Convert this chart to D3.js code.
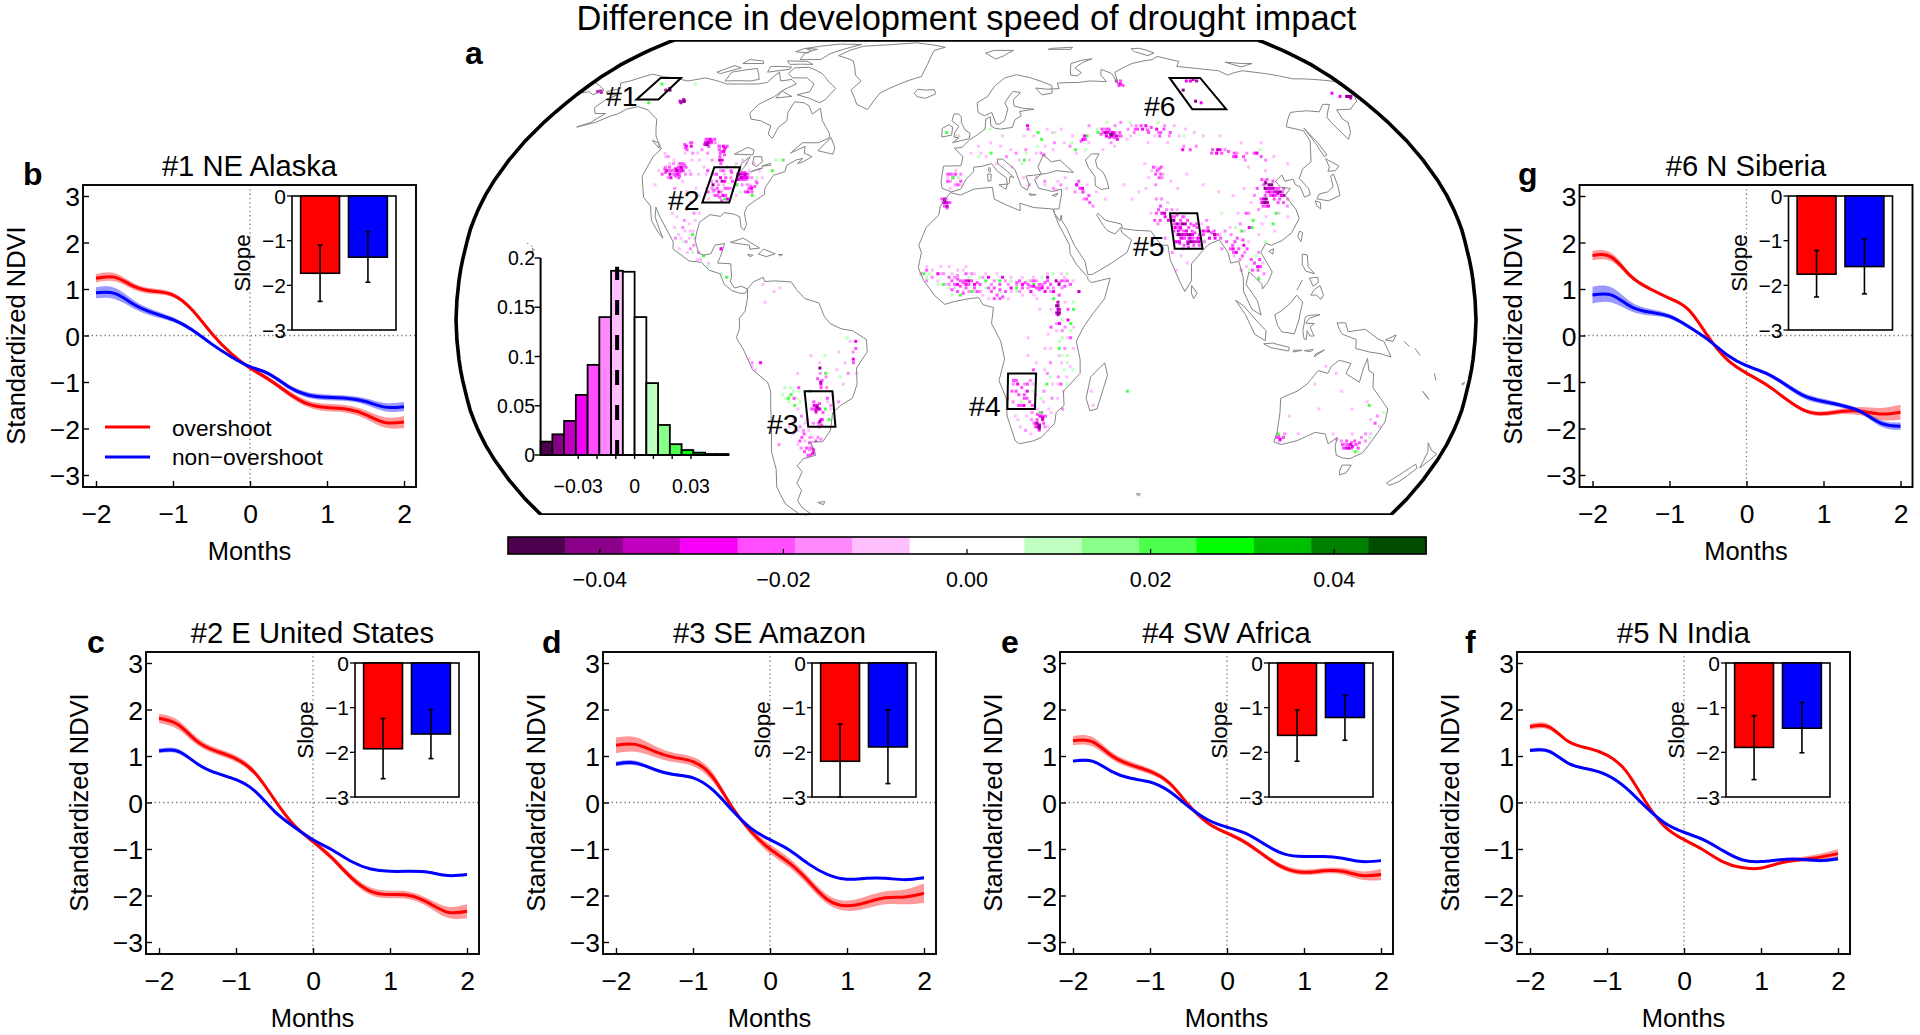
<!DOCTYPE html>
<html><head><meta charset="utf-8">
<script src="https://cdn.jsdelivr.net/npm/d3@7/dist/d3.min.js"></script>
<style>
html,body{margin:0;padding:0;background:#fff}
svg{display:block}
text{font-family:"Liberation Sans",Arial,sans-serif;fill:#000}
</style></head><body>
<svg id="fig" width="1920" height="1035"></svg>
<script>
// ---------- curve data ----------
const months=[-2,-1.75,-1.5,-1.25,-1,-.75,-.5,-.25,0,.25,.5,.75,1,1.25,1.5,1.75,2];
const overB=[1.23,1.25,1.05,.95,.87,.55,.05,-.38,-.7,-.95,-1.24,-1.47,-1.55,-1.58,-1.7,-1.87,-1.86];
const nonB=[.92,.9,.66,.48,.34,.12,-.18,-.45,-.67,-.83,-1.1,-1.28,-1.33,-1.35,-1.42,-1.54,-1.53];
const overBandB=[.09,.09,.07,.06,.05,.04,.03,.03,.04,.05,.06,.07,.08,.08,.09,.11,.13];
const nonBandB=[.12,.12,.09,.07,.05,.04,.03,.03,.03,.04,.05,.06,.06,.06,.07,.09,.1];
const overC=[1.81,1.67,1.31,1.1,.94,.63,.06,-.48,-.84,-1.2,-1.62,-1.91,-1.98,-2,-2.16,-2.36,-2.34];
const nonC=[1.11,1.1,.83,.63,.49,.24,-.19,-.52,-.8,-1.02,-1.27,-1.43,-1.48,-1.48,-1.5,-1.57,-1.55];
const overBandC=[.1,.1,.08,.07,.07,.06,.03,.03,.05,.06,.07,.08,.08,.08,.09,.12,.15];
const nonBandC=[.05,.05,.03,.03,.03,.02,.02,.02,.02,.02,.02,.02,.02,.02,.02,.02,.03];
const overD=[1.23,1.25,1.1,.97,.88,.56,-.08,-.62,-1,-1.3,-1.69,-2.09,-2.22,-2.15,-2.05,-2.03,-1.95];
const nonD=[.83,.85,.71,.6,.53,.28,-.15,-.55,-.8,-1.02,-1.32,-1.55,-1.65,-1.63,-1.63,-1.66,-1.62];
const overBandD=[.17,.16,.12,.1,.1,.1,.05,.07,.1,.1,.1,.1,.11,.13,.14,.16,.21];
const nonBandD=[.05,.05,.03,.03,.03,.02,.02,.02,.02,.02,.02,.02,.02,.02,.02,.02,.03];
const overE=[1.33,1.31,1.01,.81,.67,.42,-.05,-.44,-.66,-.87,-1.16,-1.41,-1.5,-1.47,-1.48,-1.57,-1.55];
const nonE=[.89,.89,.67,.52,.44,.24,-.09,-.37,-.53,-.67,-.91,-1.11,-1.16,-1.16,-1.2,-1.27,-1.25];
const overBandE=[.1,.1,.08,.07,.06,.05,.03,.03,.04,.05,.05,.06,.06,.06,.07,.09,.12];
const nonBandE=[.03,.03,.02,.02,.02,.02,.02,.02,.02,.02,.02,.02,.02,.02,.02,.02,.02];
const overF=[1.63,1.62,1.31,1.17,1.02,.67,.02,-.52,-.8,-1.02,-1.27,-1.4,-1.41,-1.3,-1.23,-1.18,-1.1];
const nonF=[1.12,1.1,.84,.72,.59,.31,-.09,-.44,-.64,-.8,-1.03,-1.23,-1.27,-1.23,-1.22,-1.25,-1.21];
const overBandF=[.06,.06,.03,.03,.03,.02,.02,.02,.02,.02,.02,.02,.03,.03,.05,.07,.1];
const nonBandF=[.04,.04,.03,.02,.02,.02,.02,.02,.02,.02,.02,.02,.02,.02,.02,.03,.04];
const overG=[1.72,1.68,1.27,1,.8,.55,-.02,-.52,-.81,-1.05,-1.35,-1.61,-1.68,-1.63,-1.63,-1.69,-1.65];
const nonG=[.87,.87,.62,.5,.41,.19,-.09,-.42,-.65,-.81,-1.05,-1.3,-1.42,-1.51,-1.65,-1.89,-1.95];
const overBandG=[.1,.09,.05,.04,.04,.03,.02,.02,.03,.03,.03,.04,.05,.06,.09,.13,.16];
const nonBandG=[.18,.16,.1,.07,.05,.04,.03,.03,.03,.04,.05,.06,.06,.05,.05,.07,.08];
// slope insets: bar value, error top, error bottom
const barCats=['overshoot','non\u2212overshoot'];
const slopeB=[[-1.73,-1.1,-2.36],[-1.37,-.8,-1.93]];
const slopeC=[[-1.92,-1.24,-2.59],[-1.59,-1.04,-2.14]];
const slopeD=[[-2.2,-1.37,-3],[-1.88,-1.05,-2.7]];
const slopeE=[[-1.62,-1.05,-2.2],[-1.22,-.72,-1.73]];
const slopeF=[[-1.89,-1.18,-2.61],[-1.46,-.88,-2.01]];
const slopeG=[[-1.75,-1.22,-2.26],[-1.58,-.96,-2.19]];
const yTicks=[-3,-2,-1,0,1,2,3], xTicks=[-2,-1,0,1,2], slopeTicks=[0,-1,-2,-3];
// ---------- histogram / colour bar ----------
const binEdgesStart=-.05, binWidth=.00625;
const histValues=[.0136,.021,.0346,.061,.0915,.14,.187,.186,.14,.073,.0305,.011,.005,.0024,.001,.001];
const binColors=['#4d0050','#8b0089','#bf00bf','#f700f7','#ff4dff','#ff88ff','#ffbfff','#ffffff','#ffffff','#bfffbf','#88ff88','#4dff4d','#00ff00','#00bf00','#008000','#004d00'];
const histYTicks=[0,.05,.1,.15,.2], histXMinor=[-.03,-.02,-.01,0,.01,.02,.03], histXLabels=[-.03,0,.03];
const histMean=-.0093;
const barTicks=[-.04,-.02,0,.02,.04];
// ---------- map: study boxes [lon0,lat0,lon1,lat1] ----------
const regionBoxes=[[-150,63,-140,70],[-98,33,-88,43],[-58,-30,-48,-20],[15,-25,25,-15],[75,20,85,30],[100,60,115,70]];
const regionNames=['#1','#2','#3','#4','#5','#6'];
// ---------- coastlines (lon,lat) ----------
const coastNorthAmerica=[[-164,54.6],[-160,56],[-157.5,58.7],[-162,58.7],[-165,60.5],[-164,63],[-161,64.5],[-166,64.6],[-168,65.6],[-163,66.5],[-166.5,68.3],[-163,69],[-156.5,71.3],[-150,70.5],[-141,69.7],[-135,69],[-128,70],[-124,69.5],[-115,68],[-108,68],[-100,68],[-96,68.5],[-94,72],[-90,69],[-85,69.5],[-81.5,68],[-86,66],[-88,64],[-93,61.5],[-94.5,58.8],[-92.5,57],[-88,56.5],[-82.5,55],[-82,52.5],[-79.5,51.3],[-79,54.5],[-76.7,56.5],[-78,59],[-77.5,62.3],[-73,62],[-70,61],[-67,58.5],[-64.5,60.3],[-61.5,56.5],[-57,53],[-56,51.5],[-60,50],[-66.5,50],[-70,47],[-65,49],[-64.5,47],[-61,46],[-64,44.5],[-66,44],[-64.5,45.5],[-67,45],[-70,43.5],[-70,41.7],[-74,40.7],[-75.5,38],[-76,36.9],[-75.5,35.3],[-78,33.9],[-81,32],[-81.5,30],[-80,26.8],[-80.5,25.2],[-81.8,26],[-83,29],[-85,29.7],[-89,30.2],[-90,29.1],[-94,29.6],[-97.3,27.5],[-97.8,22.5],[-95.9,18.8],[-94,18.2],[-91.5,18.6],[-90.4,21],[-87,21.5],[-87.8,18.3],[-88.7,16],[-84,15.8],[-83.3,12],[-83.7,10.8],[-82,9],[-79.7,9.5],[-77.4,8.7],[-78.2,7.5],[-80,7.5],[-83,8.3],[-85.7,10],[-87.5,13],[-91.5,14],[-94.5,16.2],[-99,16.6],[-105.3,20],[-105.6,22],[-109,25.7],[-112.7,29.5],[-114.7,31.7],[-114,29],[-111,25],[-109.5,23],[-112,25],[-115,28],[-116.8,32],[-120.5,34.5],[-122.5,37.7],[-124.3,40.4],[-124,46],[-122.5,48.2],[-125,50],[-128,52],[-130.5,54.5],[-133,57],[-136.5,58.3],[-140,59.7],[-146,60.8],[-150,60],[-152,58.5],[-154,58],[-158,56],[-164,54.6]];
const coastSouthAmerica=[[-77.4,8.7],[-75.5,10.7],[-72,12],[-71.5,10.8],[-68,11],[-62,10.7],[-60,8.5],[-57,6],[-52,4.8],[-50,1],[-48,-1],[-44,-2.5],[-40,-3],[-35.2,-5.5],[-35,-9],[-39,-13.5],[-39,-18],[-41,-22],[-45,-23.8],[-48.5,-26],[-50,-31],[-53.5,-34.2],[-58,-34.3],[-57,-38],[-62,-39],[-65,-41],[-63.7,-42.7],[-67,-46],[-66,-48],[-69,-51],[-68.3,-53],[-65.3,-55],[-70,-55.3],[-74.5,-52],[-75.5,-47],[-73.5,-42],[-73.5,-37],[-71.5,-30],[-70.2,-20],[-71,-17.5],[-76,-14],[-79,-8],[-81.2,-5],[-80,-2.5],[-80,.5],[-78,2.5],[-77.3,6],[-77.4,8.7]];
const coastAfrica=[[-5.9,35.8],[-2,35.1],[3,36.8],[10,37.3],[10.5,34],[15,32.3],[20,30.7],[20,32.8],[25,31.6],[32,31.2],[32.5,30],[33.7,27],[35.5,24],[37.3,21],[37.3,18.7],[39.5,15.5],[43.3,12],[43.2,11.5],[44.5,10.5],[51.2,11.8],[49,6],[45,2],[41.5,-2],[39,-6],[40.5,-11],[40.7,-15],[35,-20],[35.5,-24],[32.8,-26],[32.5,-29],[28,-33],[25,-34],[20,-34.8],[18.4,-34],[15,-27],[14.5,-22],[11.8,-17],[13.7,-11],[12.3,-6],[9,-1],[9.7,3.5],[6,4.3],[4.5,6.3],[1,6],[-4,5.2],[-7.5,4.4],[-11,6.8],[-13.5,9.5],[-15,11],[-17,14.7],[-16,19],[-17,21],[-14.5,26],[-10,29.5],[-9.5,32],[-5.9,35.8]];
const coastEurasia=[[-5.5,36],[-9,37],[-9.5,38.8],[-8.8,43.3],[-2,43.4],[-1.2,46],[-4.7,48.4],[-1.5,48.7],[1.5,50.9],[4,52],[8,54],[8.5,57],[10.5,57.7],[10.5,55],[12,54.3],[14.5,54],[19.5,54.5],[21,56.8],[24,58],[23.5,59.3],[30,60],[25,60.3],[21.5,61],[21.5,63],[25.4,65.2],[22,65.6],[17.5,62],[18.5,60],[16.5,56.5],[14.3,55.5],[12.8,55.5],[11.3,59],[8,58],[5.3,59],[5,62],[10,64],[14,67.5],[19,70],[25,71.1],[31,70.2],[41,67.5],[40,65],[35,64.5],[33,66.7],[38,66.3],[44,66.5],[44,68.3],[54,68.5],[60,69],[68,68.8],[67,71],[69,73],[73,71.5],[73,68],[75,72],[80.5,73.5],[87,75],[100,76.5],[104.5,77.7],[113,75.8],[109,74],[118,73.3],[128,72.5],[130,71],[140,72.5],[150,71.5],[160,69.7],[170,69.5],[179.9,68.7],[179.9,65],[177,62.5],[170,60],[163.5,59.8],[162,57],[163,56],[160,53],[156.7,51],[155.7,56],[156,57.5],[163,61.5],[160,61.5],[155,59.2],[150,59.5],[142,59],[135,54.7],[141,53.5],[140.5,50.5],[135.5,44.5],[130.7,42.5],[127.5,39.8],[129.4,37],[129,35.2],[126.5,34.5],[126.5,37.5],[125,38],[125,39.6],[121.5,39],[121.5,40.8],[118,39],[119,37.3],[122.5,37],[119.5,35],[121.8,31],[122,28.5],[118,24.5],[114,22.3],[110,21],[108,21.5],[105.8,19],[109,13.5],[107,10.5],[105,8.7],[105,10],[102.5,12.2],[100.7,13.5],[99.3,10],[103,5.5],[104.2,1.4],[101,3],[98.3,8],[98.5,12],[97.5,16.5],[94.5,16],[94,19],[91.5,22.5],[89,21.8],[87,21],[85,19.5],[80.5,15.8],[80,11],[77.5,8],[76,10.5],[73,17],[72.7,21],[70.5,21],[69,22.5],[67,25],[61.5,25.2],[57,25.7],[56.5,27],[51,28],[48.5,30],[48,29.5],[50,26.5],[51.5,25],[54,24.2],[56.3,26],[56.5,24.5],[59.8,22.5],[57.8,19],[52,16],[45,12.8],[43.3,12.8],[42.5,16.5],[39,21],[36.5,26],[35,28],[35,29.5],[34.3,27.8],[32.6,29.9],[32.3,31.2],[34.3,31.2],[35.9,35.5],[36,36.8],[32.5,36.1],[30.5,36.5],[27.5,37],[26.2,39.5],[29,41],[31,41.2],[35,42],[41.5,41.5],[37,45],[33.5,44.5],[30.7,46.5],[28,43],[29,41],[26,40.7],[23,40.5],[24,38],[23,36.5],[21,37.5],[19.5,41],[19,42.3],[14.5,45.3],[12.3,45.3],[12.5,44],[16,41.8],[18.4,40],[16.9,40.4],[16.5,38.5],[15.7,38],[15.5,40],[12.3,41.7],[10,44],[6,43.2],[3,43],[3,41.8],[0,39.5],[-2,36.8],[-5.5,36]];
const coastIslands=[
[[-179.9,68.7],[-175,67.5],[-170,66],[-172.5,64.5],[-176,65.5],[-179.9,65]],
[[49.3,-12],[50.5,-15.5],[47.5,-25],[45,-25.5],[43.3,-22],[44.5,-16],[49.3,-12]],
[[47,45],[50,46.8],[53,46.8],[51,45],[51,43],[53,41.5],[53.8,39],[54,37],[51,36.7],[49,37.8],[49.5,40.3],[47.7,42.8],[47,45]],
[[-5.5,50],[1.3,51.2],[1.7,52.8],[-.3,53.7],[-2,56],[-2,57.6],[-3.2,58.6],[-5.2,58.5],[-6,56.5],[-3,54.8],[-4.5,53.3],[-5,51.7],[-3,51.4],[-5.5,50]],
[[-6,52.2],[-10,51.7],[-10,54.2],[-7.3,55.3],[-5.6,54.6],[-6,52.2]],
[[-22.5,63.9],[-18.5,63.4],[-14,64.8],[-15,66.2],[-19,66],[-22.8,66.3],[-24,65],[-22.5,63.9]],
[[11,79],[16,76.7],[21,78],[27,80],[16,80],[11,79]],
[[52,71],[55,70.7],[58,71.8],[56,73.5],[62,75.5],[68,76.8],[62,76.3],[55,75],[52,71]],
[[95,79.5],[100,78],[105,79],[100,81],[95,80.8],[95,79.5]],
[[137,75.5],[145,75],[150,75],[142,73.8],[137,75.5]],
[[47,80.5],[60,80.5],[62,81.5],[50,81],[47,80.5]],
[[142,54.3],[143,50],[143.5,46.5],[142,46],[142,50],[142,54.3]],
[[130.9,34],[135,33.5],[140,35],[141,38],[141.5,41],[140,40.5],[139,37.5],[136,36],[132.5,35.4],[130.9,34]],
[[140,41.8],[143,42],[145.5,43.3],[142,45.4],[141.5,43],[140,41.8]],
[[130,33.5],[131.7,33],[131,31.2],[130,32],[130,33.5]],
[[121,25],[122,24.5],[120.8,22],[120,23.5],[121,25]],
[[108.7,19.3],[110.5,20],[110,18.5],[108.7,19.3]],
[[120.5,18.5],[122.3,18.3],[122,15],[124,13],[121,13.7],[120,15.5],[120.5,18.5]],
[[122,7],[123.5,8.6],[125.5,9.7],[126.5,7],[125.5,5.8],[124,7],[122,7]],
[[117.2,8.4],[119.5,11.3]],
[[122,11.8],[125,12],[125,10.5],[123,9.5],[122,11.8]],
[[109,1.5],[111.3,2.5],[115,5],[117,7],[119,5],[118,2],[117.5,0],[116,-3.9],[111.5,-3.3],[110,-1.5],[109,1.5]],
[[95.3,5.6],[98,4],[103.5,-1],[106,-3],[105.8,-5.8],[102,-4],[98.7,1.5],[95.3,5.6]],
[[105.3,-6.7],[108.5,-6.5],[114.5,-7.7],[114.3,-8.7],[108,-7.8],[105.3,-6.7]],
[[116,-8.5],[119,-8.5],[116,-9],[116,-8.5]],
[[123.5,-10.3],[127,-8.4],[124,-9.5],[123.5,-10.3]],
[[119.8,-8.6],[123,-8.3],[122,-8.9],[119.8,-8.6]],
[[119.8,.8],[121,1.3],[125,1.5],[121,.4],[120,-.9],[123,-1],[121.5,-2],[123,-4.5],[121.5,-4.5],[120.5,-3],[120.3,-5.5],[119.5,-5.3],[119,-3],[119.8,.8]],
[[131,-.8],[134,-.8],[135,-3.3],[141,-2.6],[146,-5.5],[147.8,-6],[150.8,-10.4],[147,-9.5],[143,-9],[138,-8],[138,-5.5],[133,-4],[132,-2.8],[131,-.8]],
[[148.3,-5.6],[152,-4.2],[151,-6],[148.3,-5.6]],
[[155,-6],[157,-7.5]],[[159,-8],[161,-10]],[[167,-15],[168,-17]],[[164,-20],[167,-22.3],[165.5,-21],[164,-20]],[[177.5,-18],[178.5,-17.5],[178,-18.3],[177.5,-18]],
[[113.5,-22],[114.2,-26],[115,-31.5],[115,-34.3],[118,-35],[123.5,-33.9],[129,-31.6],[133,-32],[135.5,-34.8],[138,-33],[138.5,-35.5],[140.5,-38],[143.5,-38.8],[146.3,-39],[150,-37.3],[151.5,-33.5],[153.5,-28.5],[153,-25],[149.5,-22],[146,-19],[145.3,-15],[143.5,-14.2],[142.5,-10.8],[141.5,-13.5],[140.8,-17.5],[137.5,-16],[135.5,-15],[136.8,-12.2],[132.5,-11.3],[130,-13],[129,-15],[125.5,-14.2],[122.2,-18],[119,-20],[114,-21.8],[113.5,-22]],
[[144.7,-40.8],[148.2,-40.8],[148,-43],[146,-43.6],[145,-42.5],[144.7,-40.8]],
[[166.5,-45.9],[168.3,-46.6],[171,-45.5],[172.7,-43.7],[174.3,-41.7],[172.7,-40.5],[170,-43],[166.5,-45.9]],
[[172.7,-34.5],[175.5,-36.6],[178.4,-37.7],[177,-39.5],[175.3,-41.6],[174.8,-39.5],[174.5,-37],[172.7,-34.5]],
[[80,9.7],[81.8,7.5],[80.5,6],[79.8,7.5],[80,9.7]],
[[12.5,38],[15.6,38.2],[15.1,36.7],[12.5,38]],[[8.3,41],[9.7,41],[9.5,39.2],[8.4,39],[8.3,41]],[[9,43],[9.5,42.5],[9.3,41.5],[8.6,42],[9,43]],[[23.6,35.5],[26.3,35.2],[24,35],[23.6,35.5]],[[32.3,35],[34.5,35.6],[33.5,34.7],[32.3,35]],
[[-61.5,66.5],[-64,63],[-66,62],[-72,63.5],[-78,64.5],[-73,65.5],[-73,68],[-78,70],[-85,70],[-89,71.5],[-88,73.5],[-81,73.7],[-72,71.5],[-67,69],[-61.5,66.5]],
[[-78,76.5],[-89,76.5],[-90,79],[-85,80.5],[-92,81],[-75,83],[-62,82.8],[-70,80.5],[-76,78.5],[-78,76.5]],
[[-80,74.7],[-92,74.7],[-95,76],[-84,75.8],[-80,74.7]],
[[-105,69],[-117,69],[-118,72],[-107,73.3],[-101,69.5],[-105,69]],
[[-123,71.5],[-125.5,72],[-120,74.3],[-115.5,73.5],[-123,71.5]],
[[-106,75],[-117,75],[-116,76.5],[-108,76],[-106,75]],
[[-90,73],[-100,72],[-101,74],[-90,73.8],[-90,73]],
[[-88,79],[-96,79.5],[-93,81],[-88,80],[-88,79]],
[[-80,64],[-87,63.5],[-86,65.7],[-82,64.5],[-80,64]],
[[-59.3,47.7],[-53,46.7],[-52.8,48.5],[-55.5,51.5],[-59.3,47.7]],
[[-123.5,48.4],[-128.3,50.7],[-125,50],[-123.5,48.4]],
[[-43.5,59.9],[-40,65],[-32,68],[-22,70.5],[-20,75],[-18,80],[-12,81.5],[-30,83.6],[-45,82.7],[-60,82],[-70,78],[-60,76],[-55,71],[-51,69],[-54,66],[-49,61.5],[-43.5,59.9]],
[[-85,21.8],[-80.5,23],[-74.2,20.2],[-77.7,19.9],[-78,21],[-85,21.8]],
[[-74.4,18.5],[-72.8,19.9],[-68.4,18.6],[-71.5,17.8],[-74.4,18.5]],
[[-78.3,18.4],[-76.3,18.2],[-77.3,17.8],[-78.3,18.4]],
[[-67.2,18.4],[-65.7,18.4],[-66.5,18],[-67.2,18.4]],
[[-155.8,20.2],[-155,19.7],[-155.8,19],[-155.8,20.2]],[[-158.2,21.5],[-157.7,21.5]],[[-156.6,20.9],[-156,20.7]],
[[-61,-51.5],[-58,-51.3],[-59,-52.2],[-61,-51.5]],
[[68.8,-49],[70.5,-49],[70,-49.7],[68.8,-49]],
[[-92.2,46.7],[-88,48.7],[-85,47.9],[-84.7,46.5],[-87.5,46.6],[-92.2,46.7]],
[[-87.5,41.7],[-88,44],[-85.5,46],[-86.3,43],[-87.5,41.7]],
[[-84,46],[-81,46],[-80,44.5],[-81.7,43.2],[-83.5,43.8],[-84,46]],
[[-83.3,41.6],[-79,42.8],[-81.5,42.3],[-83.3,41.6]],
[[-79.7,43.3],[-76.3,43.5],[-76.5,44.1],[-79.7,43.3]]
];
// ---------- map pixels: difference values grouped by class (lon,lat) ----------
const spotValues={pale:-.012,light:-.017,pink:-.023,magenta:-.028,deep:-.035,dark:-.04,mint:.01,lime:.023};
const spotsPale=[[-120,47],[-115,45],[-110,44],[-112,47],[-105,45],[-102,43],[-100,41],[-108,39],[-118,38],[-105,36],[-102,37],[-100,35],[-95,36],[-92,38],[-93,41],[-90,44],[-84,42],[-82,38],[-86,35],[-98,30],[-101,27],[-104,24],[-103,20],[-98,23],[-106,26],[-100,19],[-96,17],[-92,16],[-100,25],[-108,30],[-77,-11],[-76,-13],[-75,-14],[-72,10],[-68,8],[-66,9],[-71,5],[-65,-30],[-62,-31],[-60,-34],[-63,-35],[-58,-35.5],[-58,-31],[-41,-6],[-43,-12],[-45,-9],[-39,-15],[-44,-18],[-60,-15],[-55,-10],[-14,15],[-12,14],[-9,15],[-6,15],[-3,14],[0,15],[-10,11],[-7,10],[-4,9],[-1,8],[3,8],[8,6],[15,6],[20,7],[25,6],[30,10],[35,12],[38,11],[40,8],[32,-3],[36,-5],[38,-8],[30,-8],[34,-12],[28,-14],[31,-18],[36,-16],[33,-22],[25,-12],[22,-10],[38,-2],[29,-4],[30,-30],[24,-32],[20,-30],[18,-27],[26,-25],[31,-26],[-7,40],[-4,42],[-2,38],[-6,37],[-3,40],[2,47],[5,49],[10,50],[14,49],[18,48],[21,45],[25,45],[28,47],[32,49],[35,48],[40,50],[22,40],[27,40],[30,38],[35,39],[38,37],[-3,52],[12,44],[15,52],[24,52],[28,52],[44,52],[40,54],[70,44],[72,42],[74,43],[76,41],[70,40],[68,37],[65,36],[60,38],[62,34],[78,39],[80,37],[85,41],[90,38],[95,36],[100,35],[105,37],[110,43],[116,42],[122,46],[126,44],[120,50],[112,50],[105,52],[95,53],[88,52],[82,50],[60,49],[55,48],[50,50],[66,51],[74,50],[96,26],[102,22],[106,24],[108,27],[112,25],[115,30],[118,29],[100,15],[104,12],[106,16],[92,24],[75,14],[77,18],[79,16],[125,-18],[118,-27],[128,-25],[135,-20],[140,-25],[148,-28],[145,-23],[132,-15],[150,-32],[136,-32],[143,-32],[152,-30],[123,-32],[128,-13],[45,-20],[46,-24],
[-112.5,44],[-107,42],[-116,44],[-119,42],[-119,46],[-108,45],[-107,47],[-103,41],[-98,37],[-96,34],[-88,45],[-86,44],[-83,44],[-80,42],[-78,40],[-103,31],[-106,29],[-99,28],[-99,25],[-102,25],[-103,23],[-100,23],[-95,17],[-61,-25],[-63,-28],[-64,-32],[-59,-29],[-57,-33],[-60,-38.5],[-49,-25],[-50,-23],[-48,-21],[-52,-12],[-46,-14],[-9,13],[-5,13],[-1,14],[3,13],[7,13],[11,13],[16,12],[20,12],[24,12],[29,13],[34,13],[6,7],[16,8],[24,7],[26,3],[30,3],[35,5],[22,-5],[28,-8],[33,-10],[37,-13],[35,-20],[33,-18],[24,-18],[28,-23],[30,-25],[19,-28],[22,-27],[68,52],[70,55],[78,52],[88,55],[92,54],[98,52],[46,38],[49,36],[52,34],[38,40],[34,36.5],[18,43],[6,47],[8,46],[44,47],[36,53],[34,54],[86,27],[96,18],[101,25],[110,29],[106,33],[100,30],[75,33],[68,30],[78,31]];
const spotsLight=[[-118,46],[-113,42],[-109,47],[-103,47],[-106,41],[-110,37],[-114,40],[-117,43],[-100,45],[-97,39],[-92,36],[-90,40],[-94,38],[-85,38],[-82,40],[-103,28],[-101,22],[-99,20],[-105,23],[-96,19],[-70,-35],[-60,-27],[-58,-28],[-61,-30],[-55,-33],[-56,-29],[-59,-36],[-62,-36],[-40,-9],[-42,-15],[-76,-12],[-52,-15],[-50,-19],[-46,-23],[-12,12],[-8,13],[-4,12],[-1,11],[2,13],[6,12],[10,11],[14,11],[18,10],[22,9],[27,10],[31,9],[34,9],[37,10],[-16,13],[-14,11],[33,2],[35,-2],[30,-12],[33,-16],[35,-25],[28,-20],[24,-28],[22,-31],[15,-22],[21,-18],[23,-17],[17,-23],[-6,39],[-4,38],[-2,41],[-5,41],[16,46],[20,47],[24,48],[30,47],[36,50],[42,49],[30,39],[33,37],[36,38],[41,36],[44,34],[47,32],[24,38],[52,55],[58,54],[66,56],[72,55],[76,54],[84,55],[88,49],[100,47],[104,48],[108,47],[116,47],[118,45],[75,40],[72,38],[74,31],[70,27],[72,23],[74,19],[78,20],[88,28],[92,20],[98,17],[100,19],[103,16],[106,13],[100,27],[104,30],[108,35],[112,33],[119,32],[142,-35],[146,-35],[148,-32],[118,-32],[150,-27],[117,-34],
[-110,43],[-114.5,44],[-108,41],[-106,48],[-102,50],[-100,49],[-95,42],[-97,41],[-93,43],[-96,37],[-89,37],[-87,38],[-83,38],[-80,39],[-100,30],[-103,26],[-98,21],[-58,-33],[-60,-31],[-59,-36.5],[-54,-33.5],[-50,-16],[-49,-24],[-6,10],[-3,12.5],[1,8],[5,8],[9,10],[15,10],[19,8],[23,11],[25,11],[30,8],[35,11],[32,-1],[34,-3],[35,-8],[29,-15],[31,-22],[25,-21],[17,-18],[24,-26],[29,-30],[59,50],[63,55],[68,54],[70,53],[80,53],[84,52],[93,49],[110,45],[112,47],[71,34],[73,34],[76,31],[80,29],[86,22],[94,25],[96,24],[98,14],[105,19],[108,31],[120,34],[138,-33.5],[140,-34],[147,-33],[149,-34]];
const spotsPink=[[-112,50],[-106,51],[-104,49],[-98,47],[-115,42],[-109,43],[-112,41],[-117,41],[-110,40],[-100,42],[-96,44],[-94,35],[-91,42],[-90,37],[-84,41],[-83,36],[-102,33],[-88,20],[-55,-25],[-52,-26],[-50,-22],[-56,-34],[-58,-36],[-54,-30],[-60,-36],[-39,-8],[-40,-12],[-60,-19],[-62,-22],[18,-17],[21,-21],[19,-24],[23,-23],[28,-27],[26,-30],[-8,32],[-6,12],[0,13],[5,10],[8,9],[12,10],[20,10],[26,9],[29,11],[33,7],[36,3],[37,-5],[30,-2],[-2,11],[-14,14],[24,-14],[34,-18],[-7,41],[26,54],[31,46.5],[43,39],[44,36],[46,35],[57,53],[60,54],[64,52],[71,54],[76,53],[80,52],[90,48],[98,47],[106,46],[117,46],[73,41],[75,29],[78,27],[84,27],[90,24],[96,21],[98,20],[102,17],[105,17],[103,30],[110,37],[114,39],[120,37],[142,-34],[145,-36],[150,-29],[116,-33],[118,-33],
[-112,43],[-111,42.5],[-110.5,41.5],[-112.5,41],[-113,42.5],[-111.5,40.5],[-110,43.5],[-114,42],[-109.5,42],[-111,44],[-116,41.5],[-117,42.5],[-115.5,43],[-112,44],[-110,40.5],[-106,49.5],[-104.5,51],[-103.5,50],[-105.5,50.8],[-106.5,51],[-104,49],[-103,51],[-113,48.5],[-112,48],[-111.5,50],[-114,49.5],[-99,48],[-97,48],[-98,47.5],[-96.5,49],[-99.5,49],[-97.5,46],[-96,46.5],[-87,40],[-86,39.5],[-85,39.5],[-84.5,41],[-85.5,41.5],[-87.5,40.5],[-86.5,41.5],[-84,39.5],[-88,41],[-83.5,40],[-81.5,37.5],[-80.5,36],[-82,37],[-80,37.5],[-79.5,38.5],[-95,36.5],[-93,35],[-94,37],[-92,40],[-91,37],[-90,35],[-96,41],[-89,39],[-92,34.5],[-94,42],[-90.5,41.5],[-95,39],[-97,36],[-91,33.5],[-5,11],[-4,10],[-3,11.5],[-2,9.5],[-1,10.5],[0,9],[1,10],[2,11],[3,9],[4,10.5],[-5,8.5],[-3,8],[-1,7.5],[4,8],[9,8],[10,9],[11,7],[12,8.5],[13,6.5],[14,8],[10,6],[12,6],[18,10.5],[19,11],[20,9],[21,10.5],[22,10],[23,9.5],[24,11],[25,9],[26,10],[27,9.5],[28,10.5],[29,9],[30,10],[26,8.5],[33,10.5],[34,11],[35,9.5],[36,11],[37,10],[75.5,29],[76.5,29],[77.5,29.5],[78.5,28],[79.5,29],[81,28],[82,27],[83,26.5],[84,26],[76,27],[77,26],[78,25.5],[79,25],[81,26],[82,25],[83,24.5],[84.5,24],[75.5,25],[76.5,24],[77.5,23],[79,23],[80.5,23],[82,23],[83.5,23],[75.5,22],[77,21.5],[78.5,21],[80,20.5],[82,21],[84,21],[71,31],[72,32],[70,30],[69,28],[71,28],[86,24],[87,25],[88,26],[89,24.5],[90,25],[91,24],[92,23],[94,22],[95,20],[96,19],[97,22],[98,23],[100,22.5],[101,20],[99,18],[102,14],[104,14],[103,16],[105,15],[113,38],[114,37],[115,36],[116,35],[117,37],[118,37],[114,35],[115,34],[116,33],[117,34],[118,33],[113,36],[112,35],[119,36],[117,39],[115,39.5],[113,39.5],[110,34],[111,32],[110,32],[42,38],[43,37],[44,36],[45,34],[46,33],[56,52.5],[57,54],[58,52],[59,51.5],[60,53.5],[61,51.5],[62,53],[63,52],[64,53],[59,54],[48,51],[49,51],[47,50.5],[72,54],[74,55],[76,53.5],[78,54.5],[81,53],[83,54],[85,53],[99,48],[102,47],[105,47.5],[107,47],[110,46],[115,47],[26,-28],[27,-31],[25,-29],[25.5,-30],[28.5,-29],[29,-27],[27.5,-26],[26,-26.5],[17,-17],[18,-20],[19,-21],[20,-19],[21,-22],[22,-22],[20,-24],[22,-18],[24,-24],[16.5,-20],[-55,-23],[-53,-23.5],[-54.5,-26],[-56,-25],[-52,-19],[-51.5,-17],[-53,-16.5],[-53,-29.5],[-54,-29],[-52.5,-28],[-57.5,-37],[-59,-38],[-60,-38],[-61,-37],[-58.5,-34.5],[-60,-32],[-61,-33],[-62,-34],[141,-35],[142,-36],[143,-35],[144,-34.5],[145,-34],[146,-35],[147,-34.5],[147.5,-36],[115.5,-33],[116,-32.5],[-8.5,33],[-7.5,34],[-9,34],[-7,31.5],[-6,33],[-6,41],[-5,40],[-4,41],[-3,38],[-2,39],[-7,39],[74,68],[75,69],[73,67.5],[75,67.5],[74,42],[75,42.5],[73,43],[76,43],[75,41],[74,40]];
const spotsMagenta=[[-113,49],[-111,49],[-105,50],[-104,50.5],[-106,50],[-97,48.5],[-98,49],[-96,45],[-116,42],[-112,42],[-111,41],[-110,42],[-113,40],[-85,40.5],[-86,41],[-84,40],[-81,37],[-82,36],[-88,20],[-94,40],[-92,39],[-93,36],[-91,35],[-89,34],[-54,-24],[-53,-25],[-55,-24],[-52,-18],[-53,-28],[-58,-37.5],[-57.5,-36.5],[-40,-11],[-39,-6],[-73,-12],[18.5,-18],[22,-20],[21,-24],[26,-29],[27,-27],[28,-28],[-8,33],[-7,33],[-8,34],[-3,10],[0,10],[3,10],[8,12],[13,12],[16,9],[23,8],[28,8],[31,8],[33,3],[32,2],[36,0],[33,-1],[-10,13],[26,55],[42,38],[44,37],[48,51],[49,52],[58,52],[59,53],[60,52],[61,53],[62,51],[74,54],[76,55],[80,54],[87,48],[100,47],[102,48],[107,46],[116,47],[72,30],[73,29],[74,28],[76,26],[78,26],[80,25],[82,24],[84,23],[76,22],[78,23],[80,22],[83,22],[86,25],[88,23],[90,23],[96,20],[97,19],[100,21],[104,15],[114,37],[116,36],[118,35],[110,33],[112,32],[103,26],[106,62],[143,-36],[144,-35],[145,-35.5],[117,-33.5],[170,65],[172,64],[74,68],[73,69],[107,69],[109,69],
[-111.5,42],[-112.5,42.5],[-110.5,42.5],[-104.5,50],[-105.5,49.5],[-105,51],[-97,47.5],[-86,40],[-85,40],[-87,39.5],[0,11],[20,10],[24,9.5],[27,9],[77,25],[79,24],[81,23],[77,22],[115,35],[117,35.5],[114,36]];
const spotsDeep=[[-172,65.5],[-171,65.7],[-170,65.3],[-129.5,62.5],[-128.5,63],[-127.5,62.5],[-128.5,62],[-141,66],[-140,66.5],[-105,50],[-97,45],[-112,42],[-111,43],[-114,41],[-86,40],[-87,41],[-85,41],[-93,39],[-54,-24.5],[-53.5,-25],[-54.5,-25.5],[-52,-17.5],[-53.5,-28.5],[27,-29.5],[26.5,-30],[27,-30.5],[26,-29],[28,-27.5],[-8,33],[-7,32],[32.5,5],[32,4],[32.5,3],[33,2],[32.5,1.5],[29,12],[32,11],[33,10],[60,52],[61,52.5],[58,53],[62,52],[73,30],[75,28],[77,27],[80,27],[80,24],[78,24],[82,22],[84,22],[80,21.5],[90,24],[88,25],[115,37],[116,37],[117,36],[119,35],[111,34],[112,33],[175,64],[177,64],[176,63.5],[111,69.5],[112,69],[144,-36],[40,8],[1,11],[101,48]];
const spotsDark=[[-139,66],[-128,62.5],[-105,49.5],[-96,38],[-54,-24.5],[-8,33.5],[32.5,4],[32.5,2],[115,38],[114,38.5],[116,38],[113,37],[118,36],[111,33],[112,34],[76,28],[79,27],[81,24],[77,24],[81,22],[175.5,64],[176.5,64],[27,-30],[60,52.5],[104,62.5],[102,66],[-52,-13.5]];
const spotsMint=[[-130,68],[-150,64],[-75,45],[-80,40],[-85,36],[-90,43],[-102,22],[-98,19],[-92,15],[-87,13],[-63,-21],[-62,-20],[-64,-23],[-60,-20],[-65,-19],[-42,-5],[-45,-16],[-50,-10],[-14,12],[-10,10],[-6,9],[-3,8],[2,11],[7,9],[12,8],[18,8],[22,11],[27,12],[33,10],[38,5],[-13,13],[33,-6],[36,-10],[35,-14],[30,-16],[38,-14],[24,-20],[20,-23],[27,-22],[34,0],[10,54],[24,47],[29,49],[37,53],[43,50],[48,48],[55,54],[60,56],[70,56],[82,56],[90,52],[118,48],[-4,52],[-3,40],[5,46],[22,44],[94,30],[104,26],[108,22],[104,18],[101,14],[98,26],[150,-33],[148,-37],[152,-26],
[-63,-19],[-61,-22],[-65,-22],[-66,-21],[-60,-23],[-5,7],[1,12],[5,12],[16,11],[31,13],[36,13],[34,-10],[37,-3],[36,-12],[34,-5],[36,-18]];
const spotsLime=[[-146,68],[-143,62],[-72,45],[-75,42],[-87,38],[-90,34],[-80,35],[-99,24],[-94,18],[-85,12],[-63,-21],[-64,-22],[-62,-24],[-56,-20],[-50,-15],[-51,-25],[-50,-28],[-15,13],[-8,10],[-2,7],[2,8],[7,11],[12,11],[18,9],[24,10],[31,6],[37,-1],[38,3],[33,-8],[29,-18],[27,-26],[-8,53],[31,51],[30,53],[50,52],[55,53],[44,48],[112,27],[114,30],[104,26],[105,28],[100,25],[104,11.5],[147,-37],[146,-24],[115.5,-32],[10,47],[-5,40],[23,45],[58,-20]];
// ---------- drawing ----------
const svg=d3.select('#fig');
const BLACK='#000';
const binColorScale=d3.scaleThreshold().domain(d3.range(1,16).map(i=>binEdgesStart+i*binWidth)).range(binColors);
const PLEN=[1,.9986,.9954,.99,.9822,.973,.96,.9427,.9216,.8962,.8679,.835,.7986,.7597,.7186,.6732,.6213,.5722,.5322];
const PDFE=[0,.062,.124,.186,.248,.31,.372,.434,.4958,.5571,.6176,.6769,.7346,.7903,.8435,.8936,.9394,.9761,1];
function robinsonStretched(lam,phi){
  const d=Math.abs(phi)*180/Math.PI, i=Math.min(Math.floor(d/5),17), t=d/5-i;
  const w=PLEN[i]+(PLEN[i+1]-PLEN[i])*t, h=PDFE[i]+(PDFE[i+1]-PDFE[i])*t;
  return [lam/Math.PI*w*(510/287),(phi<0?-1:1)*h];
}
const projection=d3.geoProjection(robinsonStretched).scale(287).translate([966,320]).precision(.2).clipExtent([[400,40],[1540,515]]);
const geoP=d3.geoPath(projection);
const defs=svg.append('defs');
defs.append('clipPath').attr('id','mapClip').append('rect').attr('x',400).attr('y',40).attr('width',1140).attr('height',475);
defs.append('filter').attr('id','soft').append('feGaussianBlur').attr('stdDeviation',.5);
const mapG=svg.append('g');
// spots
const spotGroups=[[spotsPale,'pale'],[spotsLight,'light'],[spotsMint,'mint'],[spotsPink,'pink'],[spotsLime,'lime'],[spotsMagenta,'magenta'],[spotsDeep,'deep'],[spotsDark,'dark']];
const spotLayer=mapG.append('g').attr('filter','url(#soft)').attr('clip-path','url(#mapClip)');
spotGroups.forEach(([arr,key])=>{
  spotLayer.selectAll(null).data(arr).enter().append('rect')
   .attr('x',d=>projection(d)[0]-1.5).attr('y',d=>projection(d)[1]-1.5)
   .attr('width',3).attr('height',3)
   .attr('fill',binColorScale(spotValues[key]));
});
// coasts
const coastGeo={type:'MultiLineString',coordinates:[coastNorthAmerica,coastSouthAmerica,coastAfrica,coastEurasia,...coastIslands]};
mapG.append('path').datum(coastGeo).attr('d',geoP).attr('fill','none').attr('stroke','#858585').attr('stroke-width',1).attr('stroke-linejoin','round');
// boxes
regionBoxes.forEach(b=>{
  const c=[[b[0],b[1]],[b[2],b[1]],[b[2],b[3]],[b[0],b[3]],[b[0],b[1]]].map(p=>projection(p));
  mapG.append('path').attr('d',d3.line()(c)+'Z').attr('fill','none').attr('stroke',BLACK).attr('stroke-width',2);
});
const regionLabelPos=[[606,106],[668,210],[767,434],[969,416],[1133,256],[1144,116]];
regionNames.forEach((n,i)=>mapG.append('text').attr('x',regionLabelPos[i][0]).attr('y',regionLabelPos[i][1]).attr('font-size',28.5).text(n));
// outline
mapG.append('g').attr('clip-path','url(#mapClip)').append('path').datum({type:'Sphere'}).attr('d',geoP).attr('fill','none').attr('stroke',BLACK).attr('stroke-width',3.6);
// title
svg.append('text').attr('x',966.5).attr('y',30).attr('text-anchor','middle').attr('font-size',34.5).text('Difference in development speed of drought impact');
// panel letters
[['a',465,64],['b',23,185],['c',87,653],['d',542,653],['e',1001,653],['f',1465,653],['g',1518,185]].forEach(l=>{
  svg.append('text').attr('x',l[1]).attr('y',l[2]).attr('font-size',32).attr('font-weight','bold').text(l[0]);
});
// colour bar
const cbX=d3.scaleLinear().domain([-.05,.05]).range([508,1426]);
const cb=svg.append('g');
cb.selectAll('rect').data(binColors).enter().append('rect')
  .attr('x',(d,i)=>cbX(binEdgesStart+i*binWidth)).attr('width',cbX(binWidth)-cbX(0)+.5)
  .attr('y',537).attr('height',17).attr('fill',d=>d);
cb.append('rect').attr('x',cbX(-.05)).attr('y',537).attr('width',cbX(.05)-cbX(-.05)).attr('height',17).attr('fill','none').attr('stroke',BLACK).attr('stroke-width',1.6);
barTicks.forEach(t=>{
  cb.append('line').attr('x1',cbX(t)).attr('x2',cbX(t)).attr('y1',554).attr('y2',549).attr('stroke',BLACK).attr('stroke-width',1.2);
  cb.append('text').attr('x',cbX(t)).attr('y',587).attr('text-anchor','middle').attr('font-size',21.5).text(d3.format('.2f')(t).replace('-','\u2212'));
});
// histogram
const hx=d3.scaleLinear().domain([-.05,.05]).range([540.6,728.6]);
const hy=d3.scaleLinear().domain([0,.2]).range([455,258]);
const hist=svg.append('g');
hist.selectAll('rect').data(histValues).enter().append('rect')
  .attr('x',(d,i)=>hx(binEdgesStart+i*binWidth)).attr('width',hx(binWidth)-hx(0))
  .attr('y',d=>hy(d)).attr('height',d=>hy(0)-hy(d)).attr('fill',(d,i)=>binColors[i])
  .attr('stroke',BLACK).attr('stroke-width',1.8);
hist.append('line').attr('x1',hx(histMean)).attr('x2',hx(histMean)).attr('y1',hy(0)).attr('y2',hy(.191)).attr('stroke',BLACK).attr('stroke-width',4).attr('stroke-dasharray','15 20');
hist.append('line').attr('x1',hx(-.05)).attr('x2',hx(-.05)).attr('y1',hy(0)).attr('y2',hy(.2)).attr('stroke',BLACK).attr('stroke-width',2);
hist.append('line').attr('x1',hx(-.05)).attr('x2',hx(.05)).attr('y1',hy(0)).attr('y2',hy(0)).attr('stroke',BLACK).attr('stroke-width',2);
histYTicks.forEach(t=>{
  hist.append('line').attr('x1',hx(-.05)-6).attr('x2',hx(-.05)).attr('y1',hy(t)).attr('y2',hy(t)).attr('stroke',BLACK).attr('stroke-width',1.4);
  hist.append('text').attr('x',535).attr('y',hy(t)+7).attr('text-anchor','end').attr('font-size',19.5).text(String(t));
});
histXMinor.forEach(t=>hist.append('line').attr('x1',hx(t)).attr('x2',hx(t)).attr('y1',hy(0)).attr('y2',hy(0)+4).attr('stroke',BLACK).attr('stroke-width',1.4));
histXLabels.forEach(t=>hist.append('text').attr('x',hx(t)).attr('y',493).attr('text-anchor','middle').attr('font-size',19.5).text(String(t).replace('-','\u2212')));
// line panels
const panels=[
 {title:'#1 NE Alaska',left:83,top:185,over:overB,non:nonB,overBand:overBandB,nonBand:nonBandB,slope:slopeB,legend:true},
 {title:'#2 E United States',left:146,top:652,over:overC,non:nonC,overBand:overBandC,nonBand:nonBandC,slope:slopeC},
 {title:'#3 SE Amazon',left:603,top:652,over:overD,non:nonD,overBand:overBandD,nonBand:nonBandD,slope:slopeD},
 {title:'#4 SW Africa',left:1060,top:652,over:overE,non:nonE,overBand:overBandE,nonBand:nonBandE,slope:slopeE},
 {title:'#5 N India',left:1517,top:652,over:overF,non:nonF,overBand:overBandF,nonBand:nonBandF,slope:slopeF},
 {title:'#6 N Siberia',left:1579.5,top:185,over:overG,non:nonG,overBand:overBandG,nonBand:nonBandG,slope:slopeG}
];
const W=333,H=302;
const minusFmt=d=>String(d).replace('-','\u2212');
panels.forEach(p=>{
  const g=svg.append('g').attr('transform',`translate(${p.left},${p.top})`);
  const x=d3.scaleLinear().domain([-2,2]).range([13,321]);
  const y=d3.scaleLinear().domain([-3,3]).range([290,11]);
  g.append('rect').attr('width',W).attr('height',H).attr('fill','#fff');
  g.append('line').attr('x1',0).attr('x2',W).attr('y1',y(0)).attr('y2',y(0)).attr('stroke','#777').attr('stroke-width',1.3).attr('stroke-dasharray','1.3 3');
  g.append('line').attr('x1',x(0)).attr('x2',x(0)).attr('y1',0).attr('y2',H).attr('stroke','#777').attr('stroke-width',1.3).attr('stroke-dasharray','1.3 3');
  const line=d3.line().x((d,i)=>x(months[i])).y(d=>y(d)).curve(d3.curveNatural);
  const area=(vals,band)=>d3.area().x((d,i)=>x(months[i])).y0((d,i)=>y(d-band[i])).y1((d,i)=>y(d+band[i])).curve(d3.curveNatural)(vals);
  g.append('path').attr('d',area(p.non,p.nonBand)).attr('fill','#0000ff').attr('opacity',.4);
  g.append('path').attr('d',area(p.over,p.overBand)).attr('fill','#ff0000').attr('opacity',.4);
  g.append('path').attr('d',line(p.over)).attr('fill','none').attr('stroke','#ff0000').attr('stroke-width',3);
  g.append('path').attr('d',line(p.non)).attr('fill','none').attr('stroke','#0000ff').attr('stroke-width',3);
  // axes
  const ax=g.append('g').attr('transform',`translate(0,${H})`).call(d3.axisBottom(x).tickValues(xTicks).tickSizeInner(-6).tickSizeOuter(0).tickFormat(minusFmt));
  ax.select('.domain').remove();
  ax.selectAll('line').attr('stroke',BLACK).attr('stroke-width',1.4);
  ax.selectAll('text').attr('y',36).attr('dy',0).attr('font-size',26.5).attr('font-family','"Liberation Sans",Arial,sans-serif');
  const ay=g.append('g').call(d3.axisLeft(y).tickValues(yTicks).tickSizeInner(-6).tickSizeOuter(0).tickFormat(minusFmt));
  ay.select('.domain').remove();
  ay.selectAll('line').attr('stroke',BLACK).attr('stroke-width',1.4);
  ay.selectAll('text').attr('x',-3).attr('dy','.36em').attr('font-size',26.5).attr('font-family','"Liberation Sans",Arial,sans-serif');
  g.append('rect').attr('width',W).attr('height',H).attr('fill','none').attr('stroke',BLACK).attr('stroke-width',1.9);
  g.append('text').attr('x',W/2).attr('y',-9).attr('text-anchor','middle').attr('font-size',29.2).text(p.title);
  g.append('text').attr('x',W/2).attr('y',H+73).attr('text-anchor','middle').attr('font-size',25.5).text('Months');
  g.append('text').attr('transform',`translate(-58,${y(0)}) rotate(-90)`).attr('text-anchor','middle').attr('font-size',25.5).text('Standardized NDVI');
  // inset
  const ig=g.append('g').attr('transform','translate(209,11)');
  const sy=d3.scaleLinear().domain([0,-3]).range([0,134]);
  const band=d3.scaleBand().domain(barCats).range([0,104]).paddingInner(.1875).paddingOuter(.18);
  ig.append('rect').attr('width',104).attr('height',134).attr('fill','#fff').attr('stroke',BLACK).attr('stroke-width',1.6);
  barCats.forEach((c,i)=>{
    const [v,t,b]=p.slope[i];
    ig.append('rect').attr('x',band(c)).attr('y',0).attr('width',band.bandwidth()).attr('height',sy(v)).attr('fill',i?'#0000ff':'#ff0000').attr('stroke',BLACK).attr('stroke-width',1.6);
    const cx=band(c)+band.bandwidth()/2;
    ig.append('line').attr('x1',cx).attr('x2',cx).attr('y1',sy(t)).attr('y2',sy(b)).attr('stroke',BLACK).attr('stroke-width',1.6);
    [t,b].forEach(e=>ig.append('line').attr('x1',cx-2.5).attr('x2',cx+2.5).attr('y1',sy(e)).attr('y2',sy(e)).attr('stroke',BLACK).attr('stroke-width',1.6));
  });
  slopeTicks.forEach(t=>{
    ig.append('line').attr('x1',-5).attr('x2',0).attr('y1',sy(t)).attr('y2',sy(t)).attr('stroke',BLACK).attr('stroke-width',1.3);
    ig.append('text').attr('x',-6).attr('y',sy(t)+7.5).attr('text-anchor','end').attr('font-size',21).text(minusFmt(t));
  });
  ig.append('text').attr('transform',`translate(-42,67) rotate(-90)`).attr('text-anchor','middle').attr('font-size',22.5).text('Slope');
  if(p.legend){
    [['#ff0000',barCats[0],242,251],['#0000ff',barCats[1],272,280]].forEach(l=>{
      g.append('line').attr('x1',22).attr('x2',67).attr('y1',l[2]).attr('y2',l[2]).attr('stroke',l[0]).attr('stroke-width',3);
      g.append('text').attr('x',89).attr('y',l[3]).attr('font-size',22.7).text(l[1]);
    });
  }
});
</script></body></html>
